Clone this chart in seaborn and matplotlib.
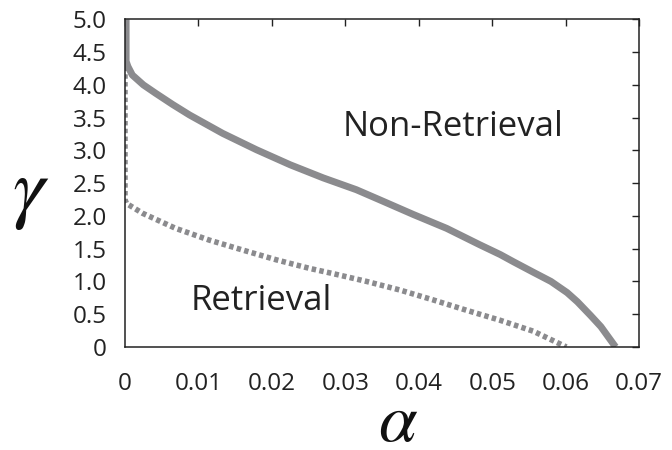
import matplotlib
matplotlib.use("Agg")
import numpy as np
import pandas as pd
import matplotlib.pyplot as plt
import seaborn as sns

# boundary between retrieval / non-retrieval (solid)
alpha_solid = [0.00015, 0.00015, 0.0004, 0.001, 0.0025, 0.0042, 0.0065, 0.0088,
               0.0133, 0.0179, 0.0225, 0.027, 0.0315, 0.0348, 0.0393, 0.0438,
               0.0483, 0.0511, 0.0529, 0.0556, 0.058, 0.0602, 0.0616, 0.0634,
               0.0648, 0.0657, 0.0668]
gamma_solid = [5.0, 4.36, 4.28, 4.15, 4.0, 3.87, 3.7, 3.54,
               3.26, 3.01, 2.78, 2.58, 2.40, 2.24, 2.02, 1.81,
               1.56, 1.41, 1.30, 1.14, 1.0, 0.83, 0.69, 0.48,
               0.31, 0.17, 0.0]

# second boundary (dotted)
alpha_dotted = [0.0, 0.0, 0.0002, 0.0024, 0.0069, 0.0115, 0.016, 0.0206, 0.0251,
                0.0283, 0.0329, 0.0374, 0.0419, 0.0465, 0.051, 0.0556, 0.0601]
gamma_dotted = [4.28, 2.25, 2.19, 2.04, 1.81, 1.63, 1.48, 1.33, 1.20,
                1.12, 1.00, 0.87, 0.72, 0.56, 0.41, 0.24, 0.0]

x_ticks = [0, 0.01, 0.02, 0.03, 0.04, 0.05, 0.06, 0.07]
x_labels = ["0", "0.01", "0.02", "0.03", "0.04", "0.05", "0.06", "0.07"]
y_ticks = [0, 0.5, 1.0, 1.5, 2.0, 2.5, 3.0, 3.5, 4.0, 4.5, 5.0]
y_labels = ["0", "0.5", "1.0", "1.5", "2.0", "2.5", "3.0", "3.5", "4.0", "4.5", "5.0"]

sns.set_style("white")
plt.rcParams["font.family"] = ["Open Sans", "DejaVu Sans"]
plt.rcParams["mathtext.fontset"] = "stix"

line_color = "#8b8b8e"

fig = plt.figure(figsize=(6.72, 4.5), dpi=100)
ax = fig.add_axes([0.186, 0.229, 0.765, 0.728])

sns.lineplot(x=alpha_solid, y=gamma_solid, sort=False, estimator=None,
             color=line_color, ax=ax)
sns.lineplot(x=alpha_dotted, y=gamma_dotted, sort=False, estimator=None,
             color=line_color, ax=ax)
solid, dotted = ax.lines[0], ax.lines[1]
solid.set_linewidth(5.0)
solid.set_solid_capstyle("butt")
dotted.set_linewidth(4.0)
dotted.set_linestyle((0, (0.8, 0.6)))
dotted.set_dash_capstyle("butt")

ax.set_xlim(0, 0.07)
ax.set_ylim(0, 5.0)
ax.set_xticks(x_ticks)
ax.set_xticklabels(x_labels)
ax.set_yticks(y_ticks)
ax.set_yticklabels(y_labels)
ax.tick_params(direction="in", length=5, width=1, colors="#222222",
               labelsize=17.5, top=True, right=True)
ax.tick_params(axis="x", pad=18)
ax.tick_params(axis="y", pad=13)
for s in ax.spines.values():
    s.set_color("#222222")
    s.set_linewidth(1.1)

ax.text(0.0447, 3.35, "Non-Retrieval", fontsize=25, color="#222222",
        ha="center", va="center")
ax.text(0.0186, 0.70, "Retrieval", fontsize=25, color="#222222",
        ha="center", va="center")

fig.text(398 / 672, 1 - 423 / 450, r"$\alpha$", fontsize=50,
         ha="center", va="center", color="#111111")
fig.text(31 / 672, 1 - 192 / 450, r"$\gamma$", fontsize=58,
         ha="center", va="center", color="#111111")

fig.savefig("out.png", dpi=100)
